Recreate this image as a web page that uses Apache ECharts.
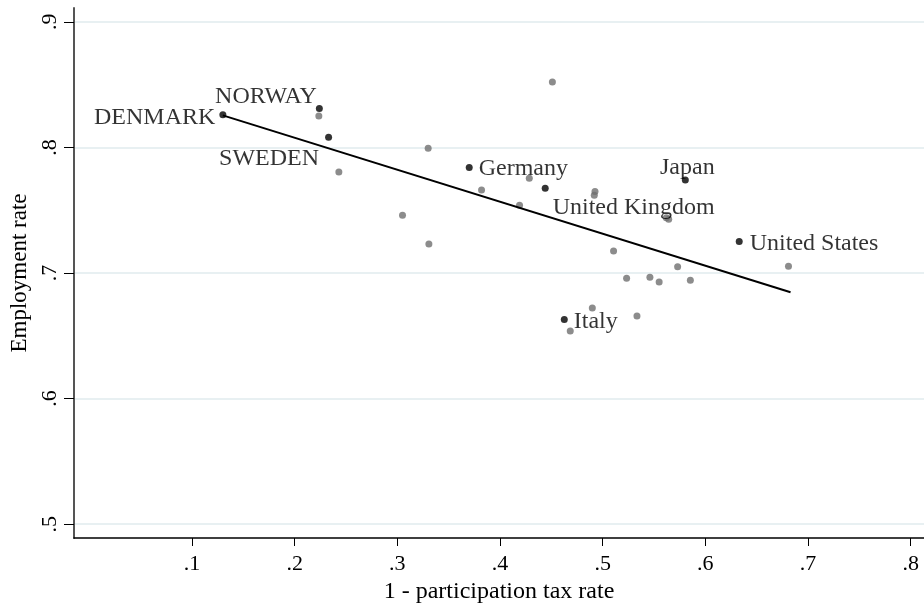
<!DOCTYPE html>
<html>
<head>
<meta charset="utf-8">
<script src="https://cdn.jsdelivr.net/npm/echarts@6/dist/echarts.min.js"></script>
<style>
  html, body { margin: 0; padding: 0; background: #fff; }
  #chart { width: 924px; height: 603px; }
</style>
</head>
<body>
<div id="chart"></div>
<script>
// ---- data ----
const labeledNames = ['DENMARK', 'NORWAY', 'SWEDEN', 'Germany', 'United Kingdom', 'Japan', 'United States', 'Italy'];
const labeledX = [0.130, 0.224, 0.233, 0.370, 0.444, 0.5805, 0.633, 0.4626];
const labeledY = [0.826, 0.831, 0.808, 0.784, 0.7675, 0.774, 0.725, 0.663];

const otherX = [0.2235, 0.243, 0.451, 0.330, 0.382, 0.4285, 0.419, 0.305, 0.3307, 0.4925, 0.4918,
                0.562, 0.5643, 0.5106, 0.573, 0.681, 0.5233, 0.546, 0.555, 0.5854, 0.4899, 0.5334, 0.4684];
const otherY = [0.825, 0.7805, 0.852, 0.7994, 0.766, 0.7755, 0.754, 0.746, 0.723, 0.7648, 0.762,
                0.744, 0.7428, 0.7176, 0.7049, 0.7054, 0.6959, 0.6967, 0.6929, 0.6943, 0.6722, 0.6658, 0.6539];

const fitX = [0.130, 0.683];
const fitY = [0.8255, 0.6847];

const xTicks = [0.1, 0.2, 0.3, 0.4, 0.5, 0.6, 0.7, 0.8];
const yTicks = [0.5, 0.6, 0.7, 0.8, 0.9];

const xTitle = '1 - participation tax rate';
const yTitle = 'Employment rate';

// ---- label placement (style, kept apart from data) ----
const labelPlacement = {
  'DENMARK':        { position: 'left',  distance: 4, offset: [0, 3] },
  'NORWAY':         { position: 'left',  distance: 0, offset: [1, -12] },
  'SWEDEN':         { position: 'left',  distance: 6, offset: [0, 21] },
  'Germany':        { position: 'right', distance: 6, offset: [0, 1] },
  'United Kingdom': { position: 'right', distance: 4, offset: [0, 19] },
  'Japan':          { position: 'top',   distance: -3, offset: [2, 0] },
  'United States':  { position: 'right', distance: 7, offset: [0, 2] },
  'Italy':          { position: 'right', distance: 6, offset: [0, 2] }
};

const FONT = '"Liberation Serif", "Times New Roman", "DejaVu Serif", serif';
const fmt = v => String(+v.toFixed(2)).replace(/^0\./, '.');

const labeledData = labeledNames.map((n, i) => {
  const p = labelPlacement[n];
  return {
    name: n,
    value: [labeledX[i], labeledY[i]],
    label: { show: true, position: p.position, distance: p.distance, offset: p.offset }
  };
});
const otherData = otherX.map((x, i) => [x, otherY[i]]);
const fitData = fitX.map((x, i) => [x, fitY[i]]);

const chart = echarts.init(document.getElementById('chart'), null, { renderer: 'canvas' });
chart.setOption({
  backgroundColor: '#ffffff',
  animation: false,
  textStyle: { fontFamily: FONT },
  grid: { left: 74, right: 0, top: 8, bottom: 65, containLabel: false, outerBoundsMode: 'none' },
  xAxis: {
    type: 'value',
    min: -0.015,
    max: 0.813,
    name: xTitle,
    nameLocation: 'middle',
    nameGap: 36,
    nameTextStyle: { fontFamily: FONT, fontSize: 24, color: '#000' },
    axisLine: { show: true, onZero: false, lineStyle: { color: '#000', width: 1.5 } },
    axisTick: { show: true, customValues: xTicks, length: 8, lineStyle: { color: '#000', width: 1 } },
    axisLabel: { customValues: xTicks, formatter: fmt, margin: 15, fontFamily: FONT, fontSize: 22, color: '#000' },
    splitLine: { show: false }
  },
  yAxis: {
    type: 'value',
    min: 0.489,
    max: 0.911,
    name: yTitle,
    nameLocation: 'middle',
    nameGap: 39,
    nameTextStyle: { fontFamily: FONT, fontSize: 23, color: '#000' },
    axisLine: { show: true, onZero: false, lineStyle: { color: '#555', width: 2 } },
    axisTick: { show: true, customValues: yTicks, length: 10, lineStyle: { color: '#000', width: 1 } },
    axisLabel: { customValues: yTicks, formatter: fmt, rotate: 90, margin: 13, fontFamily: FONT, fontSize: 22, color: '#000' },
    splitLine: { show: true, customValues: yTicks, lineStyle: { color: '#e8f0f2', width: 2 } }
  },
  series: [
    {
      type: 'scatter',
      data: otherData,
      symbol: 'circle',
      symbolSize: 7,
      itemStyle: { color: '#6f6f6f' },
      z: 2
    },
    {
      type: 'line',
      data: fitData,
      showSymbol: false,
      symbol: 'none',
      lineStyle: { color: '#000', width: 2 },
      z: 3
    },
    {
      type: 'scatter',
      data: labeledData,
      symbol: 'circle',
      symbolSize: 7,
      itemStyle: { color: '#000' },
      label: { show: true, formatter: '{b}', fontFamily: FONT, fontSize: 24, color: '#000' },
      z: 4
    }
  ]
});
</script>
</body>
</html>
